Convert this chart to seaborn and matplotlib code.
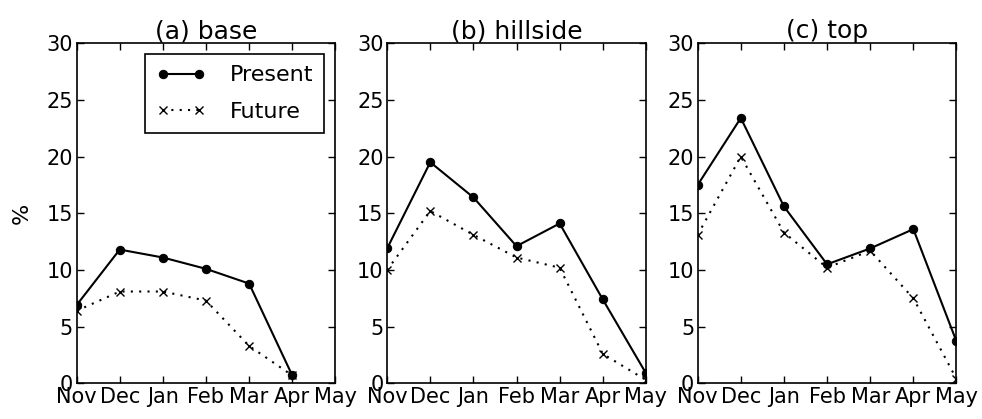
import numpy as np
import pandas as pd
import matplotlib
matplotlib.use("Agg")
import matplotlib.pyplot as plt
import seaborn as sns

months = ["Nov", "Dec", "Jan", "Feb", "Mar", "Apr", "May"]
titles = ["(a) base", "(b) hillside", "(c) top"]

base_present = [6.9, 11.8, 11.1, 10.1, 8.8, 0.7, np.nan]
base_future = [6.4, 8.1, 8.1, 7.3, 3.3, 0.7, np.nan]
hillside_present = [11.9, 19.5, 16.4, 12.1, 14.1, 7.4, 0.9]
hillside_future = [10.0, 15.2, 13.1, 11.1, 10.2, 2.6, 0.3]
top_present = [17.5, 23.4, 15.6, 10.5, 11.9, 13.6, 3.7]
top_future = [13.1, 20.0, 13.3, 10.2, 11.7, 7.5, 0.4]

sites = [
    (base_present, base_future),
    (hillside_present, hillside_future),
    (top_present, top_future),
]

sns.set_style("ticks")
plt.rcParams["font.family"] = ["DejaVu Sans"]
plt.rcParams["font.size"] = 15
plt.rcParams["text.color"] = "black"
plt.rcParams["axes.labelcolor"] = "black"
plt.rcParams["xtick.color"] = "black"
plt.rcParams["ytick.color"] = "black"
plt.rcParams["xtick.direction"] = "in"
plt.rcParams["ytick.direction"] = "in"
plt.rcParams["xtick.top"] = True
plt.rcParams["ytick.right"] = True

fig, axes = plt.subplots(1, 3, figsize=(9.82, 4.19), dpi=100)
fig.subplots_adjust(left=0.078, right=0.974, bottom=0.085, top=0.897, wspace=0.2)

dotted = (0, (1, 3))
x = np.arange(len(months))
for ax, title, (present, future) in zip(axes, titles, sites):
    df = pd.DataFrame({"month": x, "Present": present, "Future": future})
    sns.lineplot(data=df.dropna(subset=["Present"]), x="month", y="Present", ax=ax,
                 color="black", lw=1.5, marker="o", markersize=6,
                 markeredgecolor="black", markerfacecolor="black", label="Present")
    sns.lineplot(data=df.dropna(subset=["Future"]), x="month", y="Future", ax=ax,
                 color="black", lw=1.5, linestyle=dotted, marker="x", markersize=5.5,
                 markeredgewidth=1.0, markeredgecolor="black", label="Future")
    ax.set_xlim(0, 6)
    ax.set_ylim(0, 30)
    ax.set_xticks(x)
    ax.set_xticklabels(months)
    ax.set_yticks(np.arange(0, 31, 5))
    ax.set_xlabel("")
    ax.set_ylabel("")
    ax.set_title(title, fontsize=18, pad=3, color="black")
    ax.tick_params(axis="both", which="major", labelsize=15, length=5, width=1,
                   direction="in", top=True, right=True, pad=2.5,
                   colors="black")
    for sp in ax.spines.values():
        sp.set_linewidth(1.2)
        sp.set_color("black")
    if ax is axes[0]:
        leg = ax.legend(loc="upper right", fontsize=16, fancybox=False,
                        framealpha=1, edgecolor="black", handlelength=2.2,
                        handletextpad=1.1, labelspacing=0.75, borderpad=0.5,
                        numpoints=2, borderaxespad=0.5, labelcolor="black")
        leg.get_frame().set_linewidth(1.2)
    else:
        ax.get_legend().remove()

axes[0].set_ylabel("%", fontsize=16, labelpad=11, color="black")

fig.savefig("out.png", dpi=100)
